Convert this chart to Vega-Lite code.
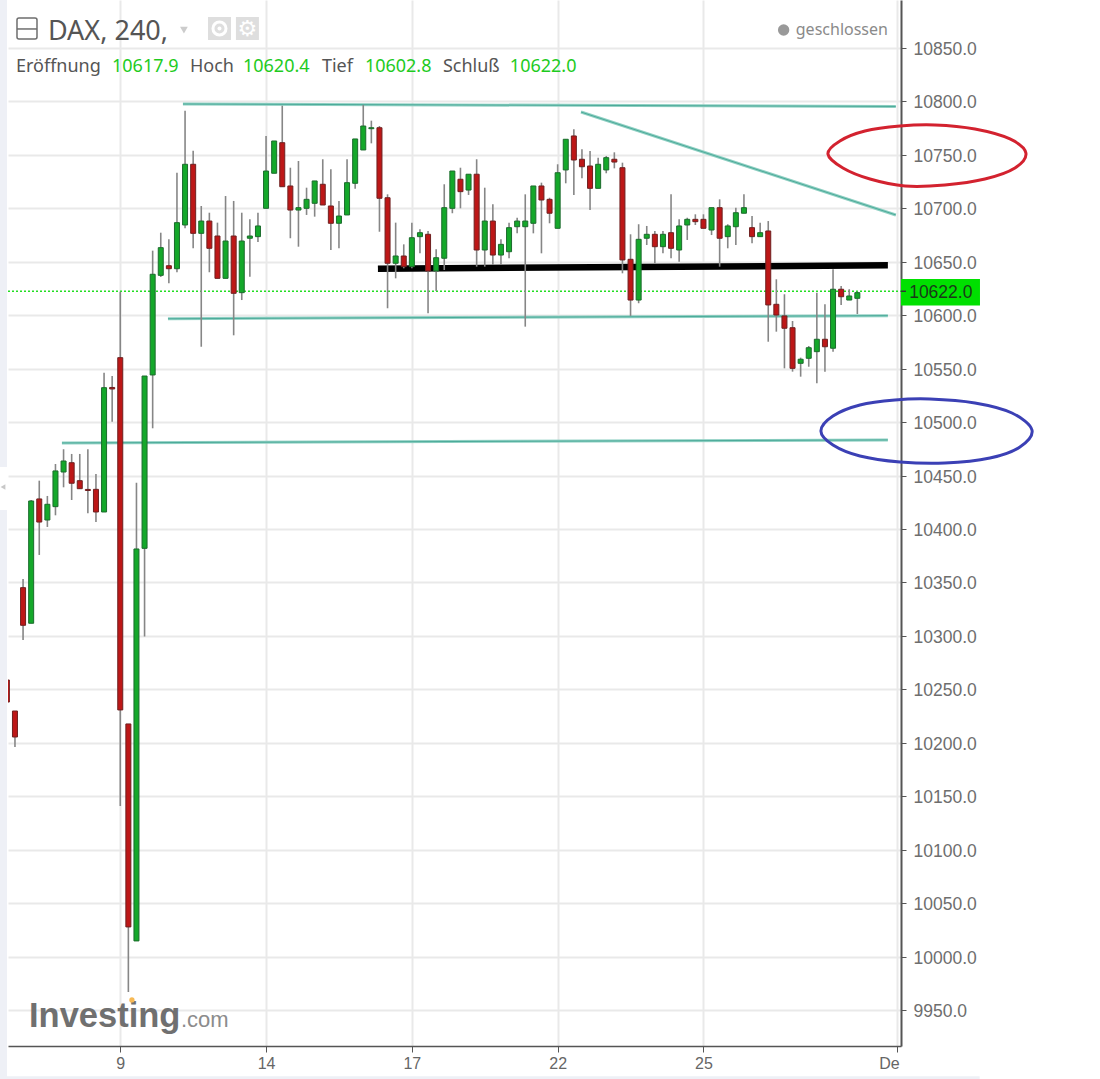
{
"$schema":"https://vega.github.io/schema/vega-lite/v6.json",
"width":893,"height":1046,
"autosize":"none",
"padding":{"left":8,"top":0,"right":199,"bottom":33},
"background":"white",
"config":{"view":{"stroke":null}},
"datasets":{
"candles":[
{"x":-14,"open":10258.7,"high":10258.7,"low":10238.1,"close":10238.1,"dir":"down"},
{"x":-13,"open":10229.7,"high":10229.7,"low":10196,"close":10205.4,"dir":"down"},
{"x":-12,"open":10345.1,"high":10353.2,"low":10296.2,"close":10309.9,"dir":"down"},
{"x":-11,"open":10311.8,"high":10427.1,"low":10311.8,"close":10426.2,"dir":"up"},
{"x":-10,"open":10428.1,"high":10445.2,"low":10375.7,"close":10406.5,"dir":"down"},
{"x":-9,"open":10408.4,"high":10430.9,"low":10401.9,"close":10423.1,"dir":"up"},
{"x":-8,"open":10420.9,"high":10460.8,"low":10412.8,"close":10454.3,"dir":"up"},
{"x":-7,"open":10453.3,"high":10474.6,"low":10439,"close":10463.6,"dir":"up"},
{"x":-6,"open":10462,"high":10470.2,"low":10427.1,"close":10442.8,"dir":"down"},
{"x":-5,"open":10445.2,"high":10470.2,"low":10437.4,"close":10437.7,"dir":"down"},
{"x":-4,"open":10437,"high":10474.6,"low":10414.7,"close":10436,"dir":"down"},
{"x":-3,"open":10437.1,"high":10451.5,"low":10406.5,"close":10415.9,"dir":"down"},
{"x":-2,"open":10415.9,"high":10546.2,"low":10415.9,"close":10532.2,"dir":"up"},
{"x":-1,"open":10532.4,"high":10543.1,"low":10500.4,"close":10531,"dir":"down"},
{"x":0,"open":10560.3,"high":10622,"low":10140.9,"close":10230.7,"dir":"down"},
{"x":1,"open":10217.6,"high":10217.6,"low":9966.9,"close":10027.7,"dir":"down"},
{"x":2,"open":10014.6,"high":10443.3,"low":10014.6,"close":10381.3,"dir":"up"},
{"x":3,"open":10381.9,"high":10543.1,"low":10299.3,"close":10543.1,"dir":"up"},
{"x":4,"open":10544.1,"high":10660.4,"low":10494.2,"close":10638.3,"dir":"up"},
{"x":5,"open":10637.3,"high":10677.2,"low":10635.8,"close":10663.2,"dir":"up"},
{"x":6,"open":10646.3,"high":10671,"low":10629.9,"close":10643.5,"dir":"down"},
{"x":7,"open":10643.5,"high":10733.3,"low":10640.2,"close":10686.6,"dir":"up"},
{"x":8,"open":10684.4,"high":10791.3,"low":10681.3,"close":10741.2,"dir":"up"},
{"x":9,"open":10741.2,"high":10753.9,"low":10662.6,"close":10676.6,"dir":"down"},
{"x":10,"open":10676.6,"high":10702.2,"low":10570.5,"close":10688.1,"dir":"up"},
{"x":11,"open":10688.1,"high":10695.9,"low":10640.2,"close":10662.6,"dir":"down"},
{"x":12,"open":10674.1,"high":10686.6,"low":10634.5,"close":10634.5,"dir":"down"},
{"x":13,"open":10634.5,"high":10711.5,"low":10634.5,"close":10669.4,"dir":"up"},
{"x":14,"open":10674.1,"high":10706.9,"low":10581.2,"close":10620.5,"dir":"down"},
{"x":15,"open":10621.1,"high":10695.9,"low":10614.2,"close":10669.4,"dir":"up"},
{"x":16,"open":10672,"high":10689.7,"low":10636,"close":10674.1,"dir":"up"},
{"x":17,"open":10673.5,"high":10695.9,"low":10668.5,"close":10683.5,"dir":"up"},
{"x":18,"open":10700,"high":10767.7,"low":10700,"close":10734.9,"dir":"up"},
{"x":19,"open":10732.8,"high":10763,"low":10732.8,"close":10763,"dir":"up"},
{"x":20,"open":10761.4,"high":10796,"low":10720.2,"close":10720.2,"dir":"down"},
{"x":21,"open":10720.9,"high":10738,"low":10672,"close":10698.4,"dir":"down"},
{"x":22,"open":10698.4,"high":10744.3,"low":10664.1,"close":10700.6,"dir":"up"},
{"x":23,"open":10700,"high":10719.3,"low":10693.8,"close":10708.4,"dir":"up"},
{"x":24,"open":10704.7,"high":10725.6,"low":10692.2,"close":10725.6,"dir":"up"},
{"x":25,"open":10722.5,"high":10745.9,"low":10703.1,"close":10703.1,"dir":"down"},
{"x":26,"open":10702.2,"high":10736.5,"low":10661,"close":10686,"dir":"down"},
{"x":27,"open":10686,"high":10706.9,"low":10662.6,"close":10692.8,"dir":"up"},
{"x":28,"open":10693.8,"high":10745.9,"low":10693.8,"close":10724,"dir":"up"},
{"x":29,"open":10723.4,"high":10764.9,"low":10718.4,"close":10764.9,"dir":"up"},
{"x":30,"open":10754.6,"high":10796.7,"low":10754.6,"close":10777,"dir":"up"},
{"x":31,"open":10774.5,"high":10782,"low":10760.8,"close":10775.4,"dir":"up"},
{"x":32,"open":10775.4,"high":10777,"low":10678.1,"close":10709.4,"dir":"down"},
{"x":33,"open":10709.9,"high":10713.1,"low":10606.5,"close":10648.6,"dir":"down"},
{"x":34,"open":10648.6,"high":10686.6,"low":10634.5,"close":10655.4,"dir":"up"},
{"x":35,"open":10655.4,"high":10666.3,"low":10643.9,"close":10645.4,"dir":"down"},
{"x":36,"open":10645.4,"high":10686.6,"low":10643.9,"close":10672.5,"dir":"up"},
{"x":37,"open":10673.5,"high":10680.4,"low":10657.9,"close":10677.2,"dir":"up"},
{"x":38,"open":10675.7,"high":10678.8,"low":10601.8,"close":10641.4,"dir":"down"},
{"x":39,"open":10641.4,"high":10661.7,"low":10622.7,"close":10653.8,"dir":"up"},
{"x":40,"open":10653.3,"high":10722.5,"low":10642.3,"close":10700.6,"dir":"up"},
{"x":41,"open":10700,"high":10734.9,"low":10695.4,"close":10734.9,"dir":"up"},
{"x":42,"open":10727.2,"high":10738,"low":10700,"close":10715.6,"dir":"down"},
{"x":43,"open":10717.1,"high":10731.9,"low":10712.5,"close":10731.9,"dir":"up"},
{"x":44,"open":10731.9,"high":10745.9,"low":10645.4,"close":10661,"dir":"down"},
{"x":45,"open":10661,"high":10719.3,"low":10645.4,"close":10688.1,"dir":"up"},
{"x":46,"open":10688.1,"high":10703.8,"low":10647,"close":10656.3,"dir":"down"},
{"x":47,"open":10656.3,"high":10671,"low":10647,"close":10666.3,"dir":"up"},
{"x":48,"open":10659.4,"high":10686.6,"low":10653.3,"close":10681.9,"dir":"up"},
{"x":49,"open":10682.8,"high":10691.2,"low":10676.6,"close":10688.1,"dir":"up"},
{"x":50,"open":10682.8,"high":10713.1,"low":10589.3,"close":10688.1,"dir":"up"},
{"x":51,"open":10686,"high":10720.9,"low":10676.6,"close":10720.9,"dir":"up"},
{"x":52,"open":10720.9,"high":10724,"low":10657.9,"close":10707.8,"dir":"down"},
{"x":53,"open":10708.4,"high":10709.9,"low":10686,"close":10695.4,"dir":"down"},
{"x":54,"open":10681.3,"high":10741.2,"low":10681.3,"close":10733.3,"dir":"up"},
{"x":55,"open":10735.9,"high":10764.6,"low":10723.4,"close":10764.6,"dir":"up"},
{"x":56,"open":10767.7,"high":10773.9,"low":10712.5,"close":10745.2,"dir":"down"},
{"x":57,"open":10745.9,"high":10755.2,"low":10728.1,"close":10738.9,"dir":"down"},
{"x":58,"open":10739.6,"high":10753.6,"low":10698.4,"close":10718.7,"dir":"down"},
{"x":59,"open":10718.7,"high":10747.4,"low":10718.7,"close":10741.2,"dir":"up"},
{"x":60,"open":10735.9,"high":10749,"low":10732.8,"close":10747.4,"dir":"up"},
{"x":61,"open":10745.9,"high":10752.4,"low":10737.4,"close":10743.3,"dir":"down"},
{"x":62,"open":10738,"high":10742.7,"low":10639.2,"close":10651.7,"dir":"down"},
{"x":63,"open":10652.3,"high":10675.7,"low":10599.3,"close":10614.2,"dir":"down"},
{"x":64,"open":10614.2,"high":10685.1,"low":10611.2,"close":10671,"dir":"up"},
{"x":65,"open":10672,"high":10683.5,"low":10665.7,"close":10675.7,"dir":"up"},
{"x":66,"open":10675.7,"high":10678.8,"low":10648.6,"close":10664.1,"dir":"down"},
{"x":67,"open":10664.1,"high":10678.8,"low":10657.9,"close":10675.7,"dir":"up"},
{"x":68,"open":10677.2,"high":10713.1,"low":10653.3,"close":10662.6,"dir":"down"},
{"x":69,"open":10661,"high":10689.7,"low":10650.1,"close":10683.5,"dir":"up"},
{"x":70,"open":10684.4,"high":10691.2,"low":10670.4,"close":10689.7,"dir":"up"},
{"x":71,"open":10689.7,"high":10694.4,"low":10684.4,"close":10687.5,"dir":"down"},
{"x":72,"open":10689.7,"high":10694.4,"low":10681.3,"close":10681.3,"dir":"down"},
{"x":73,"open":10679.7,"high":10700.6,"low":10675,"close":10700.6,"dir":"up"},
{"x":74,"open":10700.6,"high":10708.4,"low":10645.4,"close":10672,"dir":"down"},
{"x":75,"open":10673.5,"high":10685.1,"low":10662.6,"close":10683.5,"dir":"up"},
{"x":76,"open":10682.8,"high":10700.6,"low":10665.7,"close":10695.9,"dir":"up"},
{"x":77,"open":10695.4,"high":10713.1,"low":10695.4,"close":10700.6,"dir":"up"},
{"x":78,"open":10681.9,"high":10692.8,"low":10667.3,"close":10673.5,"dir":"down"},
{"x":79,"open":10673.5,"high":10686.6,"low":10673.5,"close":10677.2,"dir":"up"},
{"x":80,"open":10678.8,"high":10688.1,"low":10575.2,"close":10609.6,"dir":"down"},
{"x":81,"open":10610.2,"high":10633.6,"low":10584.6,"close":10600.2,"dir":"down"},
{"x":82,"open":10599.3,"high":10619.6,"low":10550.3,"close":10587.8,"dir":"down"},
{"x":83,"open":10588.3,"high":10594.6,"low":10547.2,"close":10550.3,"dir":"down"},
{"x":84,"open":10555,"high":10560.3,"low":10542.5,"close":10558.8,"dir":"up"},
{"x":85,"open":10559.7,"high":10571.2,"low":10551.8,"close":10569.6,"dir":"up"},
{"x":86,"open":10565.9,"high":10621.1,"low":10536.3,"close":10577.5,"dir":"up"},
{"x":87,"open":10577.5,"high":10610.2,"low":10547.2,"close":10570.5,"dir":"down"},
{"x":88,"open":10569.1,"high":10643,"low":10565.9,"close":10624.3,"dir":"up"},
{"x":89,"open":10624.3,"high":10627.3,"low":10609.6,"close":10617.3,"dir":"down"},
{"x":90,"open":10614.2,"high":10624.3,"low":10614.2,"close":10618,"dir":"up"},
{"x":91,"open":10615.8,"high":10622,"low":10601.1,"close":10621.1,"dir":"up"}
],
"teal":[
{"id":"a","x":7.74,"y":10797.6},{"id":"a","x":95.75,"y":10795.3},
{"id":"b","x":56.88,"y":10790.1},{"id":"b","x":95.75,"y":10693.8},
{"id":"c","x":5.89,"y":10596.7},{"id":"c","x":94.77,"y":10599.6},
{"id":"d","x":-7.2,"y":10480.5},{"id":"d","x":94.77,"y":10483.3}
],
"black":[{"x":31.81,"y":10643.5},{"x":94.77,"y":10646.7}],
"redEllipse":[
{"n":0,"x":87.37,"y":10750.8},{"n":1,"x":88.85,"y":10763},{"n":2,"x":91.94,"y":10772.3},{"n":3,"x":96.26,"y":10777},{"n":4,"x":100.58,"y":10778},{"n":5,"x":105.52,"y":10774.2},{"n":6,"x":109.84,"y":10764.9},{"n":7,"x":111.81,"y":10751.8},{"n":8,"x":110.46,"y":10737.7},{"n":9,"x":106.75,"y":10727.4},{"n":10,"x":101.81,"y":10721.8},{"n":11,"x":96.88,"y":10720.9},{"n":12,"x":92.56,"y":10727.4},{"n":13,"x":89.22,"y":10737.7}
],
"blueEllipse":[
{"n":0,"x":86.5,"y":10491.7},{"n":1,"x":87.99,"y":10505.7},{"n":2,"x":91.32,"y":10516},{"n":3,"x":95.64,"y":10520.7},{"n":4,"x":99.96,"y":10521.6},{"n":5,"x":105.52,"y":10517.9},{"n":6,"x":110.09,"y":10508.5},{"n":7,"x":112.56,"y":10492.6},{"n":8,"x":111.07,"y":10476.7},{"n":9,"x":107.37,"y":10466.4},{"n":10,"x":101.81,"y":10461.7},{"n":11,"x":96.26,"y":10462.7},{"n":12,"x":91.32,"y":10468.3},{"n":13,"x":87.99,"y":10478.6}
],
"strips":[
{"x":-14.85,"x2":-13.99,"y":10894.9,"y2":10458},
{"x":-14.85,"x2":-13.99,"y":10417.8,"y2":9885.4},
{"x":-14.85,"x2":106.1,"y":9888,"y2":9885.4}
],
"iconBoxes":[
{"x":10.83,"x2":13.67,"y":10879,"y2":10857.5},
{"x":14.28,"x2":17.12,"y":10879,"y2":10857.5}
],
"labelsDark":[
{"x":-12.88,"y":10827.5,"t":"Eröffnung"},
{"x":8.6,"y":10827.5,"t":"Hoch"},
{"x":24.9,"y":10827.5,"t":"Tief"},
{"x":39.84,"y":10827.5,"t":"Schluß"}
],
"labelsGreen":[
{"x":-1.02,"y":10827.5,"t":"10617.9"},
{"x":15.15,"y":10827.5,"t":"10620.4"},
{"x":30.2,"y":10827.5,"t":"10602.8"},
{"x":48.1,"y":10827.5,"t":"10622.0"}
]
},
"encoding":{
"x":{"field":"x","type":"quantitative","title":null,"scale":{"domain":[-13.86,96.39],"nice":false,"zero":false,"padding":0},
"axis":{"values":[0,18,36,54,72,95.9],"labelExpr":"datum.value>95?'De':datum.value==0?'9':datum.value==18?'14':datum.value==36?'17':datum.value==54?'22':'25'","labelOffset":{"expr":"datum.value>95?-8:0"},"labelFont":"Liberation Sans","labelFontSize":16,"labelColor":"#666666","labelPadding":3,"tickSize":6,"tickColor":"#555555","domainColor":"#555555","domainWidth":1.5,"grid":true,"gridColor":"#e9e9e9","gridWidth":2,"labelOverlap":false,"labelBound":false,"labelFlush":false}},
"y":{"field":"y","type":"quantitative","title":null,"scale":{"domain":[9916.3,10894.9],"nice":false,"zero":false},
"axis":{"orient":"right","values":[9950,10000,10050,10100,10150,10200,10250,10300,10350,10400,10450,10500,10550,10600,10650,10700,10750,10800,10850],"format":".1f","labelFont":"Liberation Sans","labelFontSize":17.5,"labelColor":"#6e6e6e","labelPadding":7,"labelOffset":1.5,"tickSize":5,"tickColor":"#555555","domainColor":"#555555","domainWidth":2,"grid":true,"gridColor":"#e9e9e9","gridWidth":2,"labelOverlap":false,"labelBound":false}}
},
"layer":[
{"data":{"name":"strips"},"mark":{"type":"rect","color":"#eef0f6"},"encoding":{"x2":{"field":"x2"},"y2":{"field":"y2"}}},
{"data":{"values":[{"x":-14.48,"y":10439.3}]},"mark":{"type":"point","shape":"triangle-left","filled":true,"size":30,"color":"#c8c8c8","opacity":1}},
{"data":{"name":"black"},"mark":{"type":"line","color":"#000000","strokeWidth":6.5}},
{"data":{"name":"teal"},"mark":{"type":"line","color":"#8fd0c3","strokeWidth":3},"encoding":{"detail":{"field":"id"}}},
{"data":{"name":"teal"},"mark":{"type":"line","color":"#2f9a88","strokeWidth":1,"opacity":0.7},"encoding":{"detail":{"field":"id"}}},
{"data":{"values":[{"x":-13.86,"x2":96.39,"y":10622.4}]},"mark":{"type":"rule","color":"#22dd22","strokeWidth":1.5,"strokeDash":[2,2]},"encoding":{"x2":{"field":"x2"}}},
{"data":{"name":"candles"},"mark":{"type":"rule","color":"#868686","strokeWidth":1.6,"clip":true},
"encoding":{"y":{"field":"low","type":"quantitative","title":null,"scale":{"domain":[9916.3,10894.9],"nice":false,"zero":false}},"y2":{"field":"high"}}},
{"data":{"name":"candles"},"mark":{"type":"bar","size":5,"strokeWidth":1,"clip":true},
"encoding":{"y":{"field":"open","type":"quantitative","title":null,"scale":{"domain":[9916.3,10894.9],"nice":false,"zero":false}},"y2":{"field":"close"},
"color":{"field":"dir","type":"nominal","scale":{"domain":["up","down"],"range":["#14a82a","#bd1717"]},"legend":null},
"stroke":{"field":"dir","type":"nominal","scale":{"domain":["up","down"],"range":["#1b6b2c","#6e2020"]},"legend":null}}},
{"data":{"name":"redEllipse"},"mark":{"type":"line","color":"#d3222f","strokeWidth":3,"interpolate":"cardinal-closed"},"encoding":{"order":{"field":"n","type":"quantitative"}}},
{"data":{"name":"blueEllipse"},"mark":{"type":"line","color":"#3b40b5","strokeWidth":3,"interpolate":"cardinal-closed"},"encoding":{"order":{"field":"n","type":"quantitative"}}},
{"data":{"values":[{"x":96.39,"x2":106.14,"y":10633.9,"y2":10609}]},"mark":{"type":"rect","color":"#00e000"},"encoding":{"x2":{"field":"x2"},"y2":{"field":"y2"}}},
{"data":{"values":[{"x":96.39,"x2":97,"y":10622.4}]},"mark":{"type":"rule","color":"#333333","strokeWidth":1.5},"encoding":{"x2":{"field":"x2"}}},
{"data":{"values":[{"x":101.3,"y":10621,"t":"10622.0"}]},"mark":{"type":"text","font":"Liberation Sans","fontSize":17.5,"color":"#1a3a1a","align":"center","baseline":"middle"},"encoding":{"text":{"field":"t"}}},
{"data":{"values":[{"x":-8.93,"y":10857.5,"t":"DAX, 240,"}]},"mark":{"type":"text","font":"Noto Sans","fontSize":27,"color":"#555555","align":"left","baseline":"alphabetic"},"encoding":{"text":{"field":"t"}}},
{"data":{"name":"labelsDark"},"mark":{"type":"text","font":"Noto Sans","fontSize":18,"color":"#555555","align":"left","baseline":"alphabetic"},"encoding":{"text":{"field":"t"}}},
{"data":{"name":"labelsGreen"},"mark":{"type":"text","font":"Noto Sans","fontSize":18,"color":"#1ecb1e","align":"left","baseline":"alphabetic"},"encoding":{"text":{"field":"t"}}},
{"data":{"values":[{"x":83.4,"y":10862.1,"t":"geschlossen"}]},"mark":{"type":"text","font":"Noto Sans","fontSize":16,"color":"#8a8a8a","align":"left","baseline":"alphabetic"},"encoding":{"text":{"field":"t"}}},
{"data":{"values":[{"x":81.9,"y":10866.8}]},"mark":{"type":"point","shape":"circle","filled":true,"size":130,"color":"#999999","opacity":1}},
{"data":{"values":[{"x":7.86,"y":10866.8}]},"mark":{"type":"point","shape":"triangle-down","filled":true,"size":60,"color":"#cccccc","opacity":1}},
{"data":{"values":[{"x":-12.75,"x2":-10.28,"y":10878.1,"y2":10858.4}]},"mark":{"type":"rect","fill":"white","stroke":"#6e6e6e","strokeWidth":1.5,"cornerRadius":2},"encoding":{"x2":{"field":"x2"},"y2":{"field":"y2"}}},
{"data":{"values":[{"x":-12.75,"x2":-10.28,"y":10867.8}]},"mark":{"type":"rule","color":"#6e6e6e","strokeWidth":1.5},"encoding":{"x2":{"field":"x2"}}},
{"data":{"name":"iconBoxes"},"mark":{"type":"rect","color":"#dedede"},"encoding":{"x2":{"field":"x2"},"y2":{"field":"y2"}}},
{"data":{"values":[{"x":12.25,"y":10868.2}]},"mark":{"type":"point","shape":"circle","size":170,"stroke":"white","strokeWidth":3,"fill":"#dedede","filled":true,"opacity":1}},
{"data":{"values":[{"x":12.25,"y":10868.2}]},"mark":{"type":"point","shape":"circle","size":16,"color":"white","filled":true,"opacity":1}},
{"data":{"values":[{"x":15.7,"y":10868.2,"t":"⚙"}]},"mark":{"type":"text","font":"DejaVu Sans","fontSize":22,"color":"white","align":"center","baseline":"middle"},"encoding":{"text":{"field":"t"}}},
{"data":{"values":[{"x":-11.27,"y":9934.1,"t":"Investing"}]},"mark":{"type":"text","font":"Liberation Sans","fontWeight":"bold","fontSize":34.5,"color":"#707070","align":"left","baseline":"alphabetic"},"encoding":{"text":{"field":"t"}}},
{"data":{"values":[{"x":7.49,"y":9934.1,"t":".com"}]},"mark":{"type":"text","font":"Liberation Sans","fontSize":22,"color":"#8c8c8c","align":"left","baseline":"alphabetic"},"encoding":{"text":{"field":"t"}}},
{"data":{"values":[{"x":1.44,"y":9959.4}]},"mark":{"type":"point","shape":"circle","filled":true,"size":28,"color":"#f7b955","opacity":1}}
]
}
